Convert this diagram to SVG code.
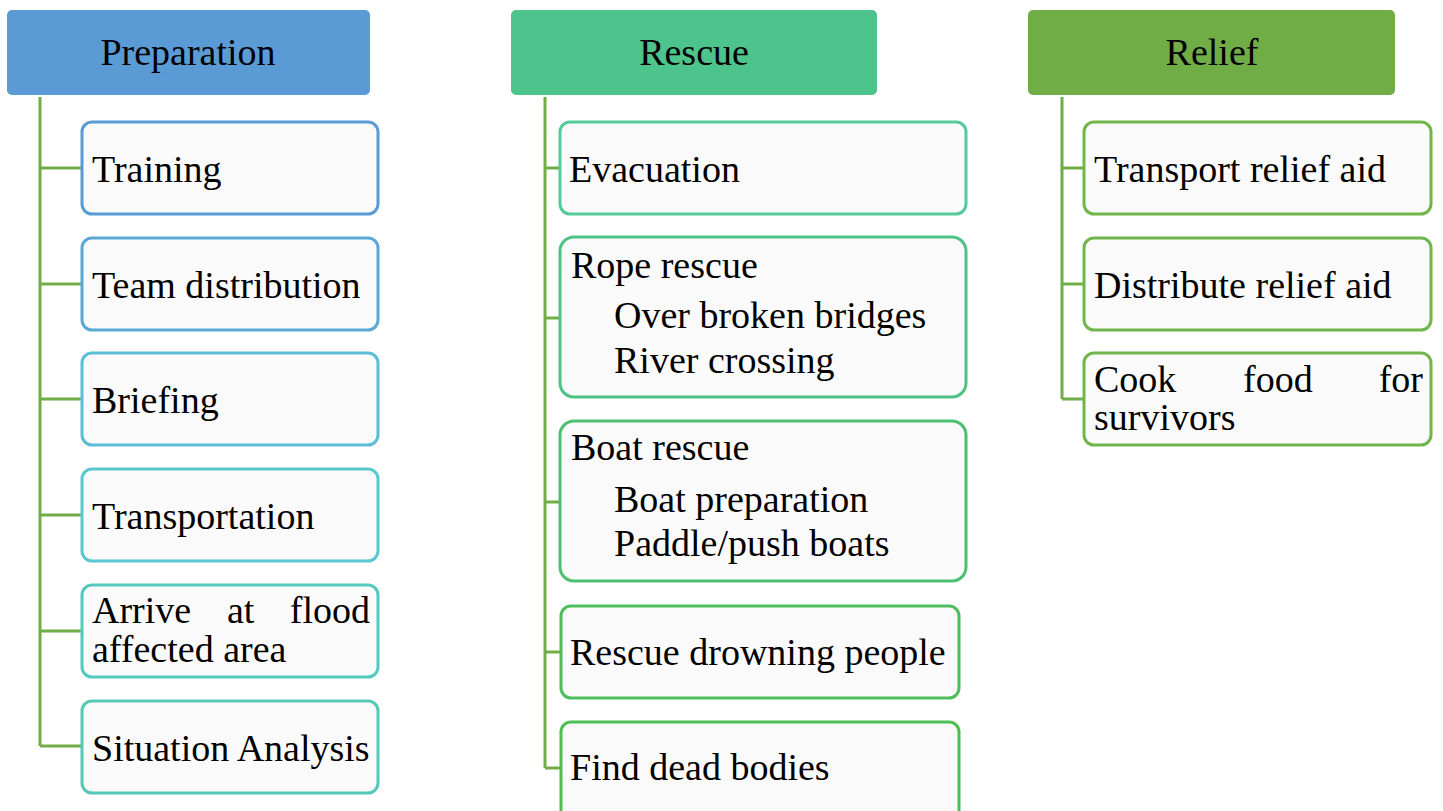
<svg xmlns="http://www.w3.org/2000/svg" width="1443" height="811" viewBox="0 0 1443 811" font-family="'Liberation Serif', 'DejaVu Serif', serif" font-size="38">
<style>
text{font-family:'Liberation Serif','DejaVu Serif',serif;font-size:38px;fill:#000}
.hdr{stroke:#fff;stroke-width:2}
.box{fill:#FAFAFA;stroke-width:3}
.c{fill:none;stroke:#70AD47;stroke-width:3}
.mid{text-anchor:middle}
.end{text-anchor:end}
</style>
<rect width="1443" height="811" fill="#fff"/>
<g id="connectors">
<path class="c" d="M40 97V746M40 168H82M40 284H82M40 399H82M40 515H82M40 631H82M40 746H82"/>
<path class="c" d="M545 97V768M545 168H560M545 318H560M545 502H560M545 652H561M545 768H561"/>
<path class="c" d="M1062 97V399M1062 168H1084M1062 284H1084M1062 399H1084"/>
</g>
<g id="preparation">
<rect class="hdr" x="6" y="9" width="365" height="87" rx="6" fill="#5B9BD5"/>
<text class="mid" x="188" y="65">Preparation</text>
</g>
<g id="rescue">
<rect class="hdr" x="510" y="9" width="368" height="87" rx="6" fill="#4DC48C"/>
<text class="mid" x="694" y="65">Rescue</text>
</g>
<g id="relief">
<rect class="hdr" x="1027" y="9" width="369" height="87" rx="6" fill="#70AD47"/>
<text class="mid" x="1212" y="65">Relief</text>
</g>
<g id="training"><rect class="box" x="82" y="122" width="296" height="92" rx="10" stroke="#5B9BD5"/><text x="92" y="182">Training</text></g>
<g id="team-distribution"><rect class="box" x="82" y="238" width="296" height="92" rx="10" stroke="#5BA8D6"/><text x="92" y="298">Team distribution</text></g>
<g id="briefing"><rect class="box" x="82" y="353" width="296" height="92" rx="10" stroke="#5BBDD7"/><text x="92" y="413">Briefing</text></g>
<g id="transportation"><rect class="box" x="82" y="469" width="296" height="92" rx="10" stroke="#59C7D0"/><text x="92" y="529">Transportation</text></g>
<g id="arrive"><rect class="box" x="82" y="585" width="296" height="92" rx="10" stroke="#55C9BE"/><text y="623"><tspan x="92">Arrive</tspan><tspan x="227">at</tspan><tspan class="end" x="370">flood</tspan></text><text x="92" y="662">affected area</text></g>
<g id="situation-analysis"><rect class="box" x="82" y="701" width="296" height="92" rx="10" stroke="#55C9B5"/><text x="92" y="761">Situation Analysis</text></g>
<g id="evacuation"><rect class="box" x="560" y="122" width="406" height="92" rx="10" stroke="#55C99A"/><text x="569" y="182">Evacuation</text></g>
<g id="rope-rescue"><rect class="box" x="560" y="237" width="406" height="160" rx="14" stroke="#4EC282"/><text x="571" y="278">Rope rescue</text><text x="614" y="328">Over broken bridges</text><text x="614" y="373">River crossing</text></g>
<g id="boat-rescue"><rect class="box" x="560" y="421" width="406" height="160" rx="14" stroke="#4CC070"/><text x="571" y="460">Boat rescue</text><text x="614" y="512">Boat preparation</text><text x="614" y="556">Paddle/push boats</text></g>
<g id="rescue-drowning"><rect class="box" x="561" y="606" width="398" height="92" rx="10" stroke="#4EBE5C"/><text x="570" y="665">Rescue drowning people</text></g>
<g id="find-dead-bodies"><rect class="box" x="561" y="722" width="398" height="100" rx="10" stroke="#4DBE50"/><text x="570" y="780">Find dead bodies</text></g>
<g id="transport-relief"><rect class="box" x="1084" y="122" width="347" height="92" rx="10" stroke="#70B64A"/><text x="1094" y="182">Transport relief aid</text></g>
<g id="distribute-relief"><rect class="box" x="1084" y="238" width="347" height="92" rx="10" stroke="#70B64A"/><text x="1094" y="298">Distribute relief aid</text></g>
<g id="cook-food"><rect class="box" x="1084" y="353" width="347" height="92" rx="10" stroke="#70B64A"/><text y="392"><tspan x="1094">Cook</tspan><tspan x="1243">food</tspan><tspan class="end" x="1423">for</tspan></text><text x="1094" y="430">survivors</text></g>
</svg>
